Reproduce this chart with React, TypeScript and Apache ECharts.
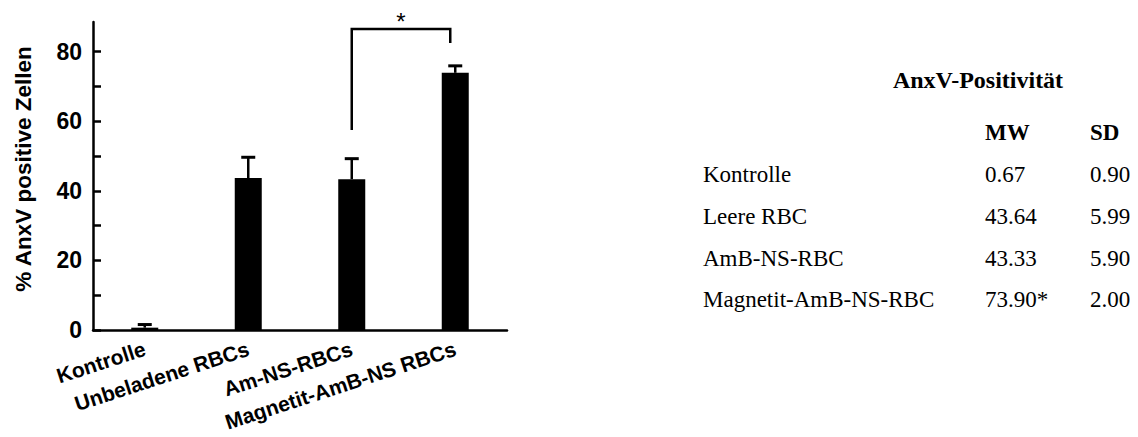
import React, { useEffect, useRef } from "react";
import * as echarts from "echarts";

const categories = ["Kontrolle", "Unbeladene RBCs", "Am-NS-RBCs", "Magnetit-AmB-NS RBCs"];
const means = [0.67, 43.64, 43.33, 73.9];
const sds = [0.9, 5.99, 5.9, 2.0];
const yLabelTicks = [0, 20, 40, 60, 80];
const yTicks = [0, 10, 20, 30, 40, 50, 60, 70, 80];

// significance bracket: from category index, to category index, left leg bottom, top, right leg bottom
const sigBracket = [[2, 3, 57.5, 86.5, 82.5]];

const tableTitle = "AnxV-Positivität";
const tableHeader = ["MW", "SD"];
const tableLabels = ["Kontrolle", "Leere RBC", "AmB-NS-RBC", "Magnetit-AmB-NS-RBC"];
const tableMW = ["0.67", "43.64", "43.33", "73.90*"];
const tableSD = ["0.90", "5.99", "5.90", "2.00"];

const SANS = "'Liberation Sans', Arial, sans-serif";
const SERIF = "'Liberation Serif', 'Times New Roman', serif";

export default function App() {
  const ref = useRef<HTMLDivElement>(null);
  useEffect(() => {
    if (!ref.current) return;
    const chart = echarts.init(ref.current, null, { renderer: "svg" });

    const rowY = [174, 216, 258, 299];
    const colLabel = 703;
    const colMW = 985;
    const colSD = 1090;
    const fs = 23;
    const tableGraphics: any[] = [
      {
        type: "text",
        x: 978,
        y: 80,
        style: { text: tableTitle, font: `bold 24px ${SERIF}`, fill: "#000", textAlign: "center", textVerticalAlign: "middle" },
      },
      {
        type: "text",
        x: colMW,
        y: 132,
        style: { text: tableHeader[0], font: `bold ${fs}px ${SERIF}`, fill: "#000", textAlign: "left", textVerticalAlign: "middle" },
      },
      {
        type: "text",
        x: colSD,
        y: 132,
        style: { text: tableHeader[1], font: `bold ${fs}px ${SERIF}`, fill: "#000", textAlign: "left", textVerticalAlign: "middle" },
      },
    ];
    tableLabels.forEach((lab, i) => {
      tableGraphics.push({
        type: "text",
        x: colLabel,
        y: rowY[i],
        style: { text: lab, font: `${fs}px ${SERIF}`, fill: "#000", textAlign: "left", textVerticalAlign: "middle" },
      });
      tableGraphics.push({
        type: "text",
        x: colMW,
        y: rowY[i],
        style: { text: tableMW[i], font: `${fs}px ${SERIF}`, fill: "#000", textAlign: "left", textVerticalAlign: "middle" },
      });
      tableGraphics.push({
        type: "text",
        x: colSD,
        y: rowY[i],
        style: { text: tableSD[i], font: `${fs}px ${SERIF}`, fill: "#000", textAlign: "left", textVerticalAlign: "middle" },
      });
    });

    chart.setOption({
      animation: false,
      backgroundColor: "#fff",
      grid: { left: 93, right: 631, top: 22, bottom: 107, containLabel: false },
      xAxis: {
        type: "category",
        data: categories,
        axisLine: { lineStyle: { color: "#000", width: 2.5 } },
        axisTick: { show: false },
        axisLabel: {
          rotate: 18,
          margin: 18,
          color: "#000",
          fontFamily: SANS,
          fontWeight: "bold",
          fontSize: 21,
          interval: 0,
        },
      },
      yAxis: {
        type: "value",
        min: 0,
        max: 88.5,
        axisLine: { show: true, lineStyle: { color: "#000", width: 2.5 } },
        axisTick: {
          show: true,
          inside: true,
          length: 8,
          lineStyle: { color: "#000", width: 2.5 },
          customValues: yTicks,
        },
        axisLabel: {
          color: "#000",
          fontFamily: SANS,
          fontWeight: "bold",
          fontSize: 23,
          margin: 11,
          customValues: yLabelTicks,
        },
        splitLine: { show: false },
      },
      graphic: [
        {
          type: "text",
          x: 23,
          y: 169,
          rotation: Math.PI / 2,
          style: {
            text: "% AnxV positive Zellen",
            font: `bold 22.5px ${SANS}`,
            fill: "#000",
            textAlign: "center",
            textVerticalAlign: "middle",
          },
        },
        ...tableGraphics,
      ],
      series: [
        {
          type: "bar",
          data: means,
          barWidth: 27,
          itemStyle: { color: "#000" },
          silent: true,
        },
        {
          type: "custom",
          data: means.map((m, i) => [i, m, sds[i]]),
          renderItem: (params: any, api: any) => {
            const i = api.value(0);
            const m = api.value(1);
            const s = api.value(2);
            const p0 = api.coord([i, m]);
            const p1 = api.coord([i, m + s]);
            const half = 7;
            return {
              type: "group",
              children: [
                {
                  type: "line",
                  shape: { x1: p0[0], y1: p0[1], x2: p1[0], y2: p1[1] },
                  style: { stroke: "#000", lineWidth: 2.5 },
                },
                {
                  type: "line",
                  shape: { x1: p1[0] - half, y1: p1[1], x2: p1[0] + half, y2: p1[1] },
                  style: { stroke: "#000", lineWidth: 3 },
                },
              ],
            };
          },
          z: 3,
        },
        {
          type: "custom",
          data: sigBracket,
          clip: false,
          renderItem: (params: any, api: any) => {
            const a = api.value(0);
            const b = api.value(1);
            const lb = api.value(2);
            const top = api.value(3);
            const rb = api.value(4);
            const pa = api.coord([a, lb]);
            const pt = api.coord([a, top]);
            const pb = api.coord([b, rb]);
            const xb = pb[0] - 5;
            return {
              type: "group",
              children: [
                {
                  type: "polyline",
                  shape: { points: [[pa[0], pa[1]], [pa[0], pt[1]], [xb, pt[1]], [xb, pb[1]]] },
                  style: { stroke: "#000", lineWidth: 2.5, fill: null },
                },
                {
                  type: "text",
                  x: (pa[0] + xb) / 2,
                  y: pt[1] - 19,
                  style: {
                    text: "*",
                    font: `24px ${SANS}`,
                    fill: "#000",
                    textAlign: "center",
                    textVerticalAlign: "top",
                  },
                },
              ],
            };
          },
          z: 4,
        },
      ],
    });
    return () => chart.dispose();
  }, []);
  return (
    <div
      ref={ref}
      style={{ position: "fixed", left: 0, top: 0, width: 1138, height: 437, background: "#fff" }}
    />
  );
}
